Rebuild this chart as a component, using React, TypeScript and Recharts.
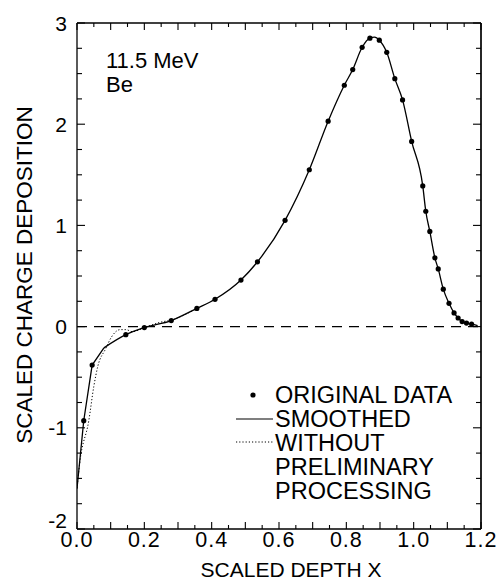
import React from 'react';
import {
  ComposedChart,
  Line,
  Scatter,
  XAxis,
  YAxis,
  ReferenceLine,
} from 'recharts';

// original data points
const origX = [0.02, 0.045, 0.145, 0.2, 0.28, 0.356, 0.41, 0.487, 0.536, 0.618, 0.69, 0.746, 0.794, 0.819, 0.847, 0.87, 0.898, 0.92, 0.944, 0.967, 0.994, 1.027, 1.036, 1.048, 1.063, 1.073, 1.088, 1.105, 1.12, 1.132, 1.144, 1.157, 1.172];
const origY = [-0.93, -0.38, -0.08, -0.01, 0.06, 0.18, 0.27, 0.46, 0.64, 1.05, 1.55, 2.03, 2.385, 2.54, 2.76, 2.85, 2.83, 2.71, 2.45, 2.24, 1.83, 1.39, 1.14, 0.94, 0.68, 0.57, 0.37, 0.23, 0.135, 0.085, 0.05, 0.035, 0.025];

// smoothed curve: steep head is piecewise straight, rest is smooth
const headX = [0.0, 0.02, 0.045, 0.08];
const headY = [-1.6, -0.93, -0.38, -0.21];
const tailX = [0.08, 0.145, 0.2, 0.28, 0.356, 0.41, 0.487, 0.536, 0.618, 0.69, 0.746, 0.794, 0.819, 0.847, 0.87, 0.884, 0.898, 0.92, 0.944, 0.967, 0.994, 1.027, 1.036, 1.048, 1.063, 1.073, 1.088, 1.105, 1.12, 1.132, 1.144, 1.157, 1.172, 1.19];
const tailY = [-0.21, -0.08, -0.01, 0.06, 0.18, 0.27, 0.46, 0.64, 1.05, 1.55, 2.03, 2.385, 2.54, 2.76, 2.85, 2.86, 2.83, 2.71, 2.45, 2.24, 1.83, 1.39, 1.14, 0.94, 0.68, 0.57, 0.37, 0.23, 0.135, 0.085, 0.05, 0.035, 0.025, 0.01];

// without preliminary processing (dotted)
const rawX = [0.0, 0.008, 0.035, 0.05, 0.062, 0.085, 0.103, 0.128, 0.145, 0.165, 0.2, 0.25, 0.28, 0.356];
const rawY = [-1.6, -1.35, -0.93, -0.59, -0.39, -0.22, -0.1, -0.03, -0.03, -0.05, -0.01, 0.045, 0.065, 0.18];

const xTicks = [0, 0.05, 0.1, 0.15, 0.2, 0.25, 0.3, 0.35, 0.4, 0.45, 0.5, 0.55, 0.6, 0.65, 0.7, 0.75, 0.8, 0.85, 0.9, 0.95, 1.0, 1.05, 1.1, 1.15, 1.2];
const yTicks = [-2, -1.75, -1.5, -1.25, -1, -0.75, -0.5, -0.25, 0, 0.25, 0.5, 0.75, 1, 1.25, 1.5, 1.75, 2, 2.25, 2.5, 2.75, 3];

const legendLabels = ['ORIGINAL DATA', 'SMOOTHED', 'WITHOUT', 'PRELIMINARY', 'PROCESSING'];

const toPts = (xs: number[], ys: number[]) => xs.map((x, i) => ({ x, y: ys[i] }));
const origData = toPts(origX, origY);
const headData = toPts(headX, headY);
const tailData = toPts(tailX, tailY);
const rawData = toPts(rawX, rawY);

const FONT = '"Liberation Sans", Arial, Helvetica, sans-serif';
const isMult = (v: number, step: number) => Math.abs(v / step - Math.round(v / step)) < 1e-6;

const BottomTick = (props: any) => {
  const { x, y, payload } = props;
  const v = payload.value;
  const len = isMult(v, 0.1) ? 7 : 4;
  return (
    <g>
      <line x1={x} y1={y} x2={x} y2={y - len} stroke="#000" strokeWidth={1.1} />
      {isMult(v, 0.2) && (
        <text x={x} y={y + 18} textAnchor="middle" fontSize={21.5} letterSpacing={1} fontFamily={FONT} fill="#000">
          {v.toFixed(1)}
        </text>
      )}
    </g>
  );
};

const TopTick = (props: any) => {
  const { x, y, payload } = props;
  const len = isMult(payload.value, 0.1) ? 7 : 4;
  return <line x1={x} y1={y} x2={x} y2={y + len} stroke="#000" strokeWidth={1.1} />;
};

const LeftTick = (props: any) => {
  const { x, y, payload } = props;
  const v = payload.value;
  const whole = isMult(v, 1);
  // the bottom label sits a little higher, as in the original
  const shift = v === -2 ? -9 : 0;
  return (
    <g>
      <line x1={x} y1={y} x2={x + (whole ? 8 : 5)} y2={y} stroke="#000" strokeWidth={1.1} />
      {whole && (
        <text x={x - 10} y={y + shift} dy="0.36em" textAnchor="end" fontSize={21} fontFamily={FONT} fill="#000">
          {String(v)}
        </text>
      )}
    </g>
  );
};

const RightTick = (props: any) => {
  const { x, y, payload } = props;
  const len = isMult(payload.value, 1) ? 8 : 5;
  return <line x1={x} y1={y} x2={x - len} y2={y} stroke="#000" strokeWidth={1.1} />;
};

const Dot = (props: any) => {
  const { cx, cy } = props;
  return <circle cx={cx} cy={cy} r={2.6} fill="#000" />;
};

const W = 496;
const H = 574;

export default function App() {
  return (
    <div style={{ position: 'relative', width: W, height: H, background: '#fff' }}>
      <ComposedChart width={W} height={H} margin={{ top: 10, right: 13, bottom: 13, left: 9 }}>
        <XAxis
          xAxisId="b"
          dataKey="x"
          type="number"
          domain={[0, 1.2]}
          ticks={xTicks}
          orientation="bottom"
          height={40}
          tickSize={0}
          tickMargin={0}
          tick={<BottomTick />}
          axisLine={{ stroke: '#000', strokeWidth: 1.4 }}
          interval={0}
          allowDataOverflow
        />
        <XAxis
          xAxisId="t"
          dataKey="x"
          type="number"
          domain={[0, 1.2]}
          ticks={xTicks}
          orientation="top"
          height={5}
          tickSize={0}
          tickMargin={0}
          tick={<TopTick />}
          axisLine={{ stroke: '#000', strokeWidth: 1.4 }}
          interval={0}
          allowDataOverflow
        />
        <YAxis
          yAxisId="l"
          type="number"
          domain={[-2, 3]}
          ticks={yTicks}
          orientation="left"
          width={60}
          tickSize={0}
          tickMargin={0}
          tick={<LeftTick />}
          axisLine={{ stroke: '#000', strokeWidth: 1.3 }}
          interval={0}
          allowDataOverflow
        />
        <YAxis
          yAxisId="r"
          type="number"
          domain={[-2, 3]}
          ticks={yTicks}
          orientation="right"
          width={10}
          tickSize={0}
          tickMargin={0}
          tick={<RightTick />}
          axisLine={{ stroke: '#000', strokeWidth: 1.7 }}
          interval={0}
          allowDataOverflow
        />
        <ReferenceLine xAxisId="b" yAxisId="l" y={0} stroke="#000" strokeWidth={1.2} strokeDasharray="10 7" />
        <Line
          xAxisId="b"
          yAxisId="l"
          data={rawData}
          dataKey="y"
          type="monotone"
          stroke="#000"
          strokeWidth={1}
          strokeDasharray="1.2 2"
          dot={false}
          isAnimationActive={false}
        />
        <Line
          xAxisId="b"
          yAxisId="l"
          data={headData}
          dataKey="y"
          type="linear"
          stroke="#000"
          strokeWidth={1.3}
          dot={false}
          isAnimationActive={false}
        />
        <Line
          xAxisId="b"
          yAxisId="l"
          data={tailData}
          dataKey="y"
          type="monotone"
          stroke="#000"
          strokeWidth={1.3}
          dot={false}
          isAnimationActive={false}
        />
        <Scatter
          xAxisId="b"
          yAxisId="l"
          data={origData}
          dataKey="y"
          fill="#000"
          shape={<Dot />}
          isAnimationActive={false}
        />
      </ComposedChart>
      <svg
        width={W}
        height={H}
        style={{ position: 'absolute', left: 0, top: 0, pointerEvents: 'none' }}
        fontFamily={FONT}
        fill="#000"
      >
        <text x={98} y={52} dy="0.36em" fontSize={22}>11.5 MeV</text>
        <text x={98} y={76} dy="0.36em" fontSize={22}>Be</text>

        <circle cx={245} cy={387} r={2.6} fill="#000" />
        <line x1={228} y1={411} x2={265} y2={411} stroke="#000" strokeWidth={1.2} />
        <line x1={228} y1={434} x2={265} y2={434} stroke="#000" strokeWidth={1} strokeDasharray="1.2 2" />
        {legendLabels.map((t, i) => (
          <text key={t} x={267} y={387 + i * 23.8} dy="0.36em" fontSize={23.5}>{t}</text>
        ))}

        <text x={283} y={561} dy="0.36em" textAnchor="middle" fontSize={21}>SCALED DEPTH X</text>
        <text
          x={16}
          y={267}
          dy="0.36em"
          textAnchor="middle"
          fontSize={22.5}
          transform="rotate(-90 16 267)"
        >
          SCALED CHARGE DEPOSITION
        </text>
      </svg>
    </div>
  );
}
